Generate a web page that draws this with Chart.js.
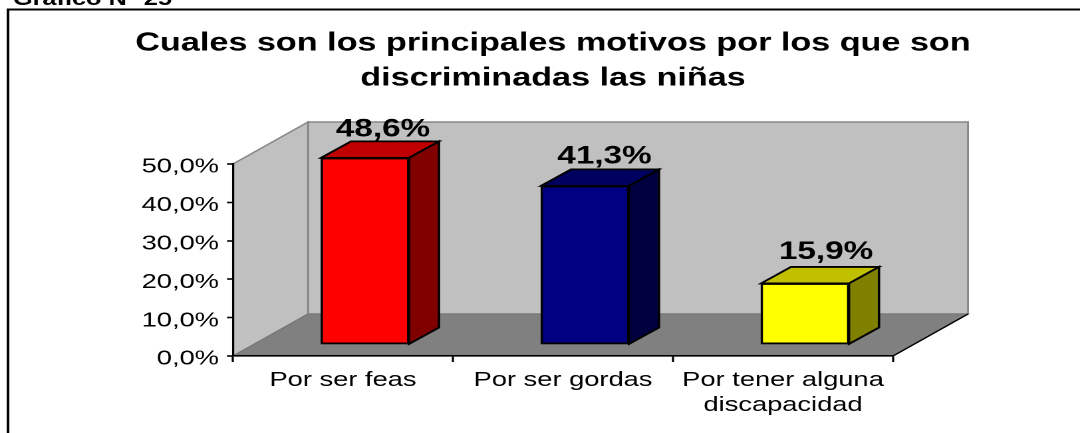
<!DOCTYPE html>
<html>
<head>
<meta charset="utf-8">
<style>
html,body{margin:0;padding:0;background:#fff;overflow:hidden;width:1080px;height:433px}
#wrap{position:absolute;left:0;top:0;width:812px;height:433px;transform-origin:0 0;transform:scale(1.33005,1)}
canvas{display:block}
</style>
<script src="https://cdn.jsdelivr.net/npm/chart.js@4"></script>
</head>
<body>
<div id="wrap"><canvas id="c" width="812" height="433"></canvas></div>
<script>
const categories = ['Por ser feas', 'Por ser gordas', ['Por tener alguna', 'discapacidad']];
const values = [48.6, 41.3, 15.9];
const yMax = 50;
const yStep = 10;
const titleLines = ['Cuales son los principales motivos por los que son', 'discriminadas las niñas'];
const caption = 'Gráfico N° 25';
const frontColors = ['#ff0000', '#000080', '#ffff00'];
const topColors = ['#c00000', '#000060', '#c0c000'];
const sideColors = ['#800000', '#000040', '#808000'];
const labelShift = [3, 4.5, 6];
const labelGap = [5, 6, 8];

const W = 812;
const K = 1080 / W;
const px = v => v / K;               // horizontal reference pixels to canvas units
const FONT = '"Liberation Sans", Arial, sans-serif';
const fmt = v => Number(v).toFixed(1).replace('.', ',') + '%';

const WALL = {dx: px(75), dy: 42};
const SHIFT = {dx: px(22), dy: 11.5};
const DEPTH = {dx: px(30), dy: 16.5};

function poly(ctx, pts, fill, stroke, lw) {
  ctx.beginPath();
  pts.forEach((p, i) => i ? ctx.lineTo(p[0], p[1]) : ctx.moveTo(p[0], p[1]));
  ctx.closePath();
  if (fill) { ctx.fillStyle = fill; ctx.fill(); }
  if (stroke) { ctx.strokeStyle = stroke; ctx.lineWidth = lw; ctx.lineJoin = 'miter'; ctx.stroke(); }
}

const scene = {
  id: 'scene',
  afterLayout(chart) {
    chart.titleBlock.left = px(26);
    chart.titleBlock.right = chart.width;
    // the reference's value-axis labels sit slightly below their ticks
    const y = chart.scales.y, orig = y.getLabelItems;
    y.getLabelItems = function (area) {
      return orig.call(y, area).map(it => ({
        ...it,
        options: {...it.options, translation: [it.options.translation[0], it.options.translation[1] + 3]}
      }));
    };
  },
  beforeDraw(chart) {
    const ctx = chart.ctx, x = chart.scales.x, y = chart.scales.y;
    const L = x.left, R = x.right, B = y.getPixelForValue(0), T = y.getPixelForValue(yMax);
    const d = WALL;
    ctx.save();
    // caption and outer frame
    ctx.fillStyle = '#000';
    ctx.font = 'bold 19px ' + FONT;
    ctx.textAlign = 'left';
    ctx.textBaseline = 'alphabetic';
    ctx.fillText(caption, px(13), 5);
    ctx.strokeStyle = '#000';
    ctx.lineWidth = 2;
    ctx.beginPath();
    ctx.moveTo(px(8), 440);
    ctx.lineTo(px(8), 9.5);
    ctx.lineTo(chart.width + 2, 9.5);
    ctx.stroke();
    // walls and floor
    poly(ctx, [[L + d.dx, T - d.dy], [R + d.dx, T - d.dy], [R + d.dx, B - d.dy], [L + d.dx, B - d.dy]], '#c0c0c0', '#868686', 1.4);
    poly(ctx, [[L, B], [L, T], [L + d.dx, T - d.dy], [L + d.dx, B - d.dy]], '#c0c0c0', '#868686', 1.4);
    poly(ctx, [[L, B], [R, B], [R + d.dx, B - d.dy], [L + d.dx, B - d.dy]], '#808080', '#777777', 1);
    ctx.beginPath();
    ctx.moveTo(R, B);
    ctx.lineTo(R + d.dx, B - d.dy);
    ctx.strokeStyle = '#000';
    ctx.lineWidth = 1.4;
    ctx.stroke();
    ctx.restore();
  },
  beforeDatasetDraw(chart) {
    chart.ctx.save();
    chart.ctx.translate(SHIFT.dx, -SHIFT.dy);
  },
  afterDatasetDraw(chart) {
    chart.ctx.restore();
  },
  afterDatasetsDraw(chart) {
    const ctx = chart.ctx;
    const bars = chart.getDatasetMeta(0).data;
    ctx.save();
    bars.forEach((b, i) => {
      const l = b.x - b.width / 2 + SHIFT.dx, r = b.x + b.width / 2 + SHIFT.dx;
      const t = b.y - SHIFT.dy, f = b.base - SHIFT.dy;
      poly(ctx, [[l, t], [l + DEPTH.dx, t - DEPTH.dy], [r + DEPTH.dx, t - DEPTH.dy], [r, t]], topColors[i], '#000', 1.8);
      poly(ctx, [[r, t], [r + DEPTH.dx, t - DEPTH.dy], [r + DEPTH.dx, f - DEPTH.dy], [r, f]], sideColors[i], '#000', 1.8);
      ctx.fillStyle = '#000';
      ctx.font = 'bold 25px ' + FONT;
      ctx.textAlign = 'center';
      ctx.textBaseline = 'alphabetic';
      ctx.fillText(fmt(values[i]), (l + r + DEPTH.dx) / 2 + px(labelShift[i]), t - DEPTH.dy - labelGap[i]);
    });
    ctx.restore();
  }
};

new Chart(document.getElementById('c'), {
  type: 'bar',
  data: {
    labels: categories,
    datasets: [{
      data: values,
      backgroundColor: frontColors,
      borderColor: '#000',
      borderWidth: 1.8,
      borderSkipped: false,
      barThickness: px(88),
      clip: false
    }]
  },
  options: {
    responsive: false,
    animation: false,
    devicePixelRatio: 2,
    layout: {padding: {left: 0, top: 0, bottom: 17, right: W - px(893)}},
    plugins: {
      legend: {display: false},
      tooltip: {enabled: false},
      title: {
        display: true,
        text: titleLines,
        color: '#000',
        font: {family: FONT, size: 25.7, weight: 'bold', lineHeight: 35 / 25.7},
        padding: {top: 26, bottom: 68}
      }
    },
    scales: {
      x: {
        afterFit(s) { s.height = 60; },
        border: {color: '#000', width: 1.6},
        grid: {display: true, drawOnChartArea: false, color: '#000', tickColor: '#000', tickLength: 6, tickWidth: 1.6},
        ticks: {
          color: '#000', padding: 6, autoSkip: false, maxRotation: 0, minRotation: 0,
          font: {family: FONT, size: 20.5, lineHeight: 25 / 20.5}
        }
      },
      y: {
        min: 0,
        max: yMax,
        afterFit(s) { s.width = px(233); },
        border: {color: '#000', width: 1.6},
        grid: {display: true, drawOnChartArea: false, color: '#000', tickColor: '#000', tickLength: px(6), tickWidth: 1.6},
        ticks: {
          color: '#000', padding: px(8), stepSize: yStep,
          callback: v => fmt(v),
          font: {family: FONT, size: 20.5}
        }
      }
    }
  },
  plugins: [scene]
});
</script>
</body>
</html>
